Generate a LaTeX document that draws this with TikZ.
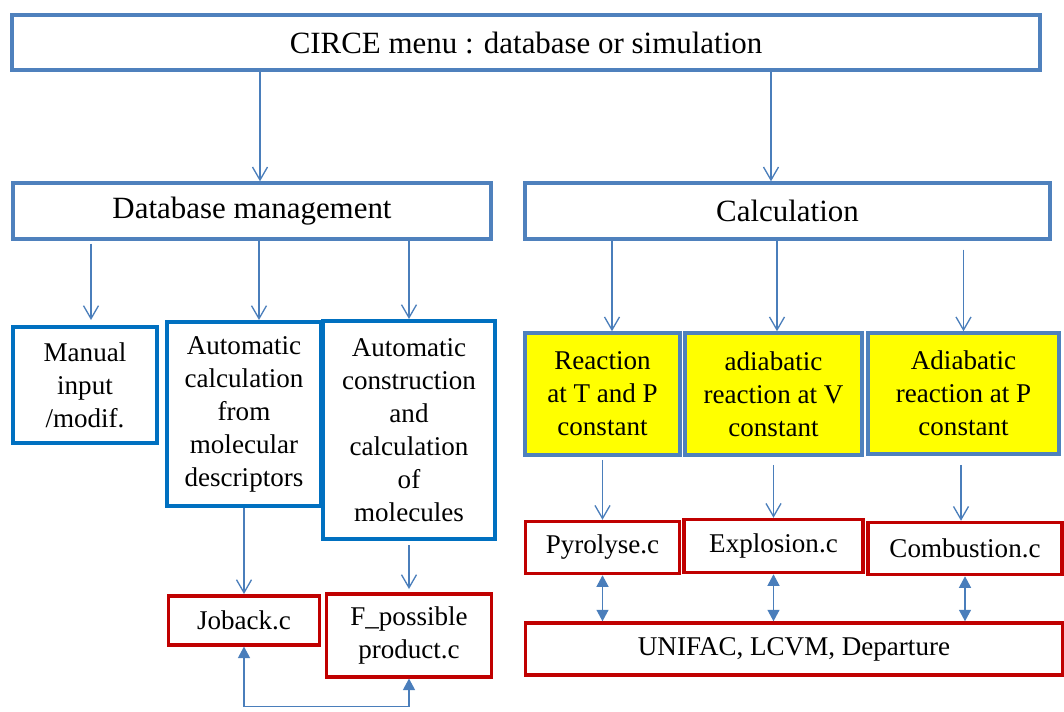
\documentclass[tikz,border=0pt]{standalone}
\usepackage{fontspec}
\setmainfont{Liberation Serif}
\usepackage{tikz}
\usetikzlibrary{arrows.meta, positioning}

\definecolor{menublue}{RGB}{79,129,189}
\definecolor{dbblue}{RGB}{0,112,192}
\definecolor{filered}{RGB}{192,0,0}
\definecolor{calcyellow}{RGB}{255,255,0}
\definecolor{linkblue}{RGB}{74,126,187}

\newcommand{\bigfont}{\fontsize{17.6pt}{21pt}\selectfont}
\newcommand{\smallfont}{\fontsize{15.4pt}{18.8pt}\selectfont}

\begin{document}
\begin{tikzpicture}[
    menubox/.style = {rectangle, draw=menublue, line width=1.9pt, inner sep=0pt, font=\bigfont},
    dbbox/.style = {rectangle, draw=dbblue, line width=2.3pt, inner sep=0pt, align=center, font=\smallfont},
    calcbox/.style = {rectangle, draw=menublue, fill=calcyellow, line width=2pt, inner sep=0pt, align=center, font=\smallfont},
    filebox/.style = {rectangle, draw=filered, line width=2pt, inner sep=0pt, align=center, font=\smallfont},
    arrow/.style = {-{Straight Barb[length=2.6mm,width=3mm]}, draw=linkblue, line width=0.75pt},
    twoway/.style = {{Triangle[length=2.3mm,width=2.4mm]}-{Triangle[length=2.3mm,width=2.4mm]}, draw=linkblue, line width=0.75pt}
]
\useasboundingbox (0,0) rectangle (21.28,-14.22);

% Define nodes
\node[menubox, minimum width=20.56cm, minimum height=1.1cm] (menu) at (10.52,-0.85) {CIRCE menu : database or simulation};
\node[menubox, minimum width=9.56cm, minimum height=1.12cm] (dbase) at (5.04,-4.22) {Database management};
\node[menubox, minimum width=10.5cm, minimum height=1.12cm] (calc) at (15.75,-4.22) {Calculation};

\node[dbbox, minimum width=2.88cm, minimum height=2.32cm] (manual) at (1.70,-7.70) {Manual\\input\\/modif.};
\node[dbbox, minimum width=3.08cm, minimum height=3.68cm] (autocalc) at (4.88,-8.28) {Automatic\\calculation\\from\\molecular\\descriptors};
\node[dbbox, minimum width=3.44cm, minimum height=4.36cm] (autoconstr) at (8.18,-8.60) {Automatic\\construction\\and\\calculation\\of\\molecules};

\node[calcbox, minimum width=3.10cm, minimum height=2.44cm] (react) at (12.05,-7.88) {Reaction\\at T and P\\constant};
\node[calcbox, minimum width=3.54cm, minimum height=2.44cm] (adiabv) at (15.47,-7.88) {adiabatic\\reaction at V\\constant};
\node[calcbox, minimum width=3.82cm, minimum height=2.42cm] (adiabp) at (19.27,-7.87) {Adiabatic\\reaction at P\\constant};

\node[filebox, minimum width=3.08cm, minimum height=1.04cm, below=1.26cm of react] (pyro) {Pyrolyse.c};
\node[filebox, minimum width=3.58cm, minimum height=1.06cm, below=1.22cm of adiabv] (explo) {Explosion.c};
\node[filebox, minimum width=3.88cm, minimum height=1.04cm, below=1.3cm of adiabp, xshift=0.03cm] (combu) {Combustion.c};
\node[filebox, minimum width=10.74cm, minimum height=1.04cm, below=0.92cm of pyro.south west, anchor=north west] (unifac) {UNIFAC, LCVM, Departure};

\node[filebox, minimum width=3.02cm, minimum height=0.98cm, below=1.72cm of autocalc] (joback) {Joback.c};
\node[filebox, minimum width=3.30cm, minimum height=1.66cm, below=1.02cm of autoconstr] (fposs) {F\_possible\\product.c};

% Draw arrows
\draw[arrow] ([xshift=0.16cm]dbase.north |- menu.south) -- ([xshift=0.16cm]dbase.north);
\draw[arrow] ([xshift=-0.33cm]calc.north |- menu.south) -- ([xshift=-0.33cm]calc.north);

\draw[arrow, shorten <=0.06cm, shorten >=0.1cm] ([xshift=0.12cm]manual.north |- dbase.south) -- ([xshift=0.12cm]manual.north);
\draw[arrow] ([xshift=0.3cm]autocalc.north |- dbase.south) -- ([xshift=0.3cm]autocalc.north);
\draw[arrow] (autoconstr.north |- dbase.south) -- (autoconstr.north);

\draw[arrow] ([xshift=0.19cm]react.north |- calc.south) -- ([xshift=0.19cm]react.north);
\draw[arrow] ([xshift=0.07cm]adiabv.north |- calc.south) -- ([xshift=0.07cm]adiabv.north);
\draw[arrow, shorten <=0.18cm] (adiabp.north |- calc.south) -- (adiabp.north);

\draw[arrow, shorten <=0.06cm] (react) -- (pyro);
\draw[arrow, shorten <=0.16cm] (explo.north |- adiabv.south) -- (explo.north);
\draw[arrow, shorten <=0.18cm] ([xshift=-0.08cm]combu.north |- adiabp.south) -- ([xshift=-0.08cm]combu.north);

\draw[arrow] (autocalc) -- (joback);
\draw[arrow, shorten <=0.08cm, shorten >=0.06cm] (autoconstr) -- (fposs);

\draw[twoway] (pyro.south) -- (pyro.south |- unifac.north);
\draw[twoway] (explo.south) -- (explo.south |- unifac.north);
\draw[twoway] (combu.south) -- (combu.south |- unifac.north);
\draw[twoway] (joback.south) -- ++(0,-1.2) -| (fposs.south);

\end{tikzpicture}
\end{document}
